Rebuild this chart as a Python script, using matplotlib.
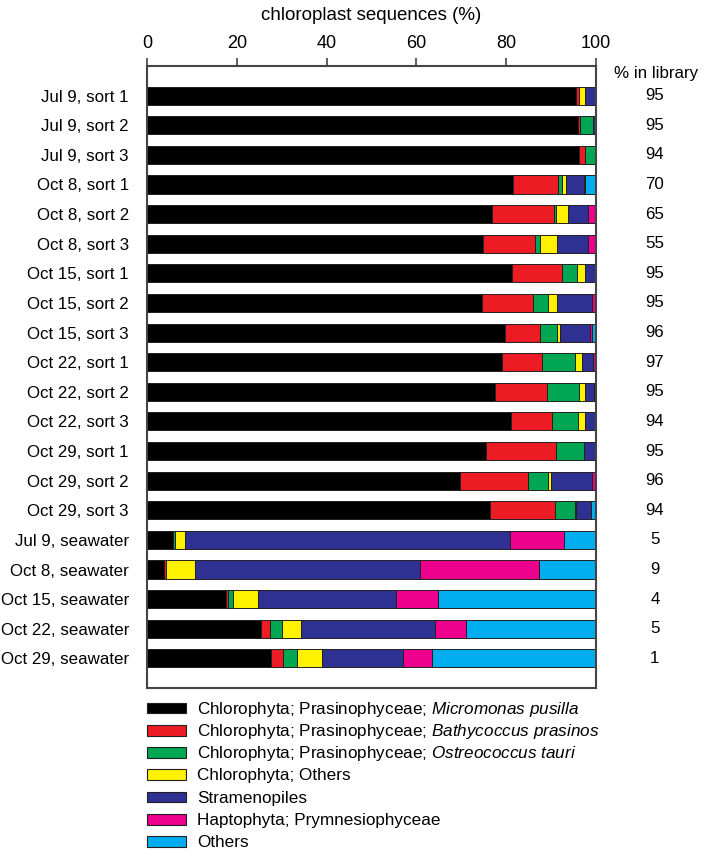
import numpy as np
import matplotlib
matplotlib.use("Agg")
import matplotlib.pyplot as plt
from matplotlib.patches import Rectangle

plt.rcParams["font.family"] = ["Liberation Sans", "DejaVu Sans"]
plt.rcParams["mathtext.fontset"] = "custom"
plt.rcParams["mathtext.rm"] = "Liberation Sans"
plt.rcParams["mathtext.it"] = "Liberation Sans:italic"

samples = [
    "Jul 9, sort 1", "Jul 9, sort 2", "Jul 9, sort 3",
    "Oct 8, sort 1", "Oct 8, sort 2", "Oct 8, sort 3",
    "Oct 15, sort 1", "Oct 15, sort 2", "Oct 15, sort 3",
    "Oct 22, sort 1", "Oct 22, sort 2", "Oct 22, sort 3",
    "Oct 29, sort 1", "Oct 29, sort 2", "Oct 29, sort 3",
    "Jul 9, seawater", "Oct 8, seawater", "Oct 15, seawater",
    "Oct 22, seawater", "Oct 29, seawater",
]
pct_in_library = [95, 95, 94, 70, 65, 55, 95, 95, 96, 97, 95, 94, 95, 96, 94, 5, 9, 4, 5, 1]

micromonas = [95.6, 96.0, 96.2, 81.6, 76.9, 74.9, 81.3, 74.6, 79.8, 79.0,
              77.4, 81.0, 75.4, 69.7, 76.4, 5.9, 3.7, 17.5, 25.3, 27.6]
bathycoccus = [0.7, 0.4, 1.4, 10.0, 13.8, 11.5, 11.2, 11.4, 7.8, 9.0,
               11.7, 9.1, 15.8, 15.1, 14.5, 0.0, 0.6, 0.6, 2.2, 2.6]
ostreococcus = [0.0, 3.0, 2.1, 0.8, 0.3, 1.1, 3.3, 3.4, 3.7, 7.4,
                7.1, 5.8, 6.1, 4.6, 4.5, 0.4, 0.0, 1.0, 2.5, 3.1]
chloro_others = [1.2, 0.0, 0.3, 1.0, 2.8, 3.9, 1.8, 2.0, 0.6, 1.5,
                 1.4, 1.7, 0.0, 0.5, 0.2, 2.1, 6.3, 5.6, 4.3, 5.6]
stramenopiles = [2.5, 0.6, 0.0, 4.0, 4.5, 6.9, 2.4, 7.8, 6.8, 2.5,
                 1.9, 2.4, 2.6, 9.3, 3.3, 72.5, 50.2, 30.8, 29.9, 18.1]
haptophyta = [0.0, 0.0, 0.0, 0.2, 1.7, 1.7, 0.0, 0.8, 0.4, 0.5,
              0.4, 0.0, 0.0, 0.8, 0.0, 12.0, 26.6, 9.4, 6.8, 6.5]
others = [0.0, 0.0, 0.0, 2.4, 0.0, 0.0, 0.0, 0.0, 0.9, 0.0,
          0.0, 0.0, 0.0, 0.0, 1.1, 7.1, 12.6, 35.1, 29.0, 36.5]

groups = [
    ("Chlorophyta; Prasinophyceae; $\\mathit{Micromonas\\ pusilla}$", micromonas, "#000000"),
    ("Chlorophyta; Prasinophyceae; $\\mathit{Bathycoccus\\ prasinos}$", bathycoccus, "#ED1C24"),
    ("Chlorophyta; Prasinophyceae; $\\mathit{Ostreococcus\\ tauri}$", ostreococcus, "#00A651"),
    ("Chlorophyta; Others", chloro_others, "#FFF200"),
    ("Stramenopiles", stramenopiles, "#2E3192"),
    ("Haptophyta; Prymnesiophyceae", haptophyta, "#EC008C"),
    ("Others", others, "#00AEEF"),
]

W, H = 708, 850
fig = plt.figure(figsize=(W / 100, H / 100), dpi=100)
ax = fig.add_axes([147 / W, 1 - 688 / H, 449 / W, 622 / H])

y = np.arange(len(samples))
left = np.zeros(len(samples))
for name, vals, color in groups:
    vals = np.array(vals)
    ax.barh(y, vals, left=left, height=0.61, color=color,
            edgecolor="#231F20", linewidth=0.7)
    left += vals

ax.set_xlim(0, 100)
ax.set_ylim(len(samples), -1)
ax.set_yticks(y)
ax.set_yticklabels(samples, fontsize=12.2)
ax.tick_params(axis="y", length=0, pad=13)
ax.xaxis.tick_top()
ax.xaxis.set_label_position("top")
ax.set_xticks([0, 20, 40, 60, 80, 100])
ax.tick_params(axis="x", direction="out", length=6, width=1.2,
               color="#444444", labelsize=13, pad=4)
ax.set_xlabel("chloroplast sequences (%)", fontsize=13.5, labelpad=11)
for sp in ax.spines.values():
    sp.set_color("#444444")
    sp.set_linewidth(1.5)

# right-hand column with library fraction
ax.text(1.134, -0.75, "% in library", transform=ax.get_yaxis_transform(),
        ha="center", va="center", fontsize=12.2)
for yi, v in zip(y, pct_in_library):
    ax.text(1.131, yi, str(v), transform=ax.get_yaxis_transform(),
            ha="center", va="center", fontsize=12.2)

# legend block below the plot, one row per group
for i, (name, _, color) in enumerate(groups):
    yc = 708 + i * 22.25
    fig.patches.append(Rectangle((147 / W, 1 - (yc + 5.3) / H), 39 / W, 10.6 / H,
                                 transform=fig.transFigure, facecolor=color,
                                 edgecolor="#231F20", linewidth=0.8))
    fig.text(197 / W, 1 - (yc + 5.6) / H, name, ha="left", va="baseline",
             fontsize=12.3)

fig.savefig("out.png", dpi=100)
